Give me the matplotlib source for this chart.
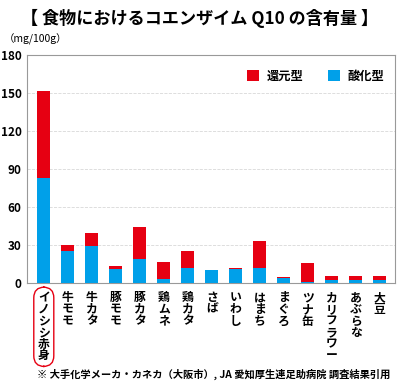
import matplotlib
matplotlib.use("Agg")
import matplotlib.pyplot as plt
import numpy as np

plt.rcParams["font.family"] = ["Noto Sans CJK JP", "DejaVu Sans"]

# ============================================================
# Data (mg/100g)
# ============================================================

foods = ["イノシシ赤身", "牛モモ", "牛カタ", "豚モモ", "豚カタ", "鶏ムネ", "鶏カタ",
         "さば", "いわし", "はまち", "まぐろ", "ツナ缶", "カリフラワー", "あぶらな", "大豆"]
oxidized = [83, 25, 29.3, 10.8, 19.3, 2.9, 12.1, 10.3, 10.8, 12.1, 4.0, 0.8, 2.1, 2.1, 2.1]
total = [151.5, 30.3, 39.8, 13.7, 44.6, 16.9, 25.0, 10.6, 11.6, 33.0, 5.0, 15.8, 5.8, 5.8, 5.8]
reduced = [t - o for t, o in zip(total, oxidized)]

RED = "#E60012"
BLUE = "#00A0E9"

# ============================================================
# Plot
# ============================================================

fig = plt.figure(figsize=(4.0, 3.85), dpi=100)
ax = fig.add_axes([0.0675, 0.265, 0.92, 0.592])

x = np.arange(len(foods))
ax.bar(x, oxidized, width=0.53, color=BLUE, label="酸化型", zorder=3)
ax.bar(x, reduced, width=0.53, bottom=oxidized, color=RED, label="還元型", zorder=3)

ax.set_xlim(-0.7, len(foods) - 0.36)
ax.set_ylim(0, 180)
ax.set_yticks(range(0, 181, 30))
ax.yaxis.grid(True, color="#d8d8d8", linestyle="--", linewidth=0.6, zorder=0)
ax.tick_params(axis="both", length=0, labelsize=8.5)
ax.tick_params(axis="y", pad=4)
for lbl in ax.get_yticklabels():
    lbl.set_fontweight("bold")

ax.set_xticks(x)
ax.set_xticklabels(["\n".join(f) for f in foods], fontsize=8.5,
                   fontweight="bold", linespacing=0.86, va="top")
ax.tick_params(axis="x", pad=6)
ax.get_xticklabels()[0].set_bbox(
    dict(boxstyle="round,pad=0.35,rounding_size=0.9", ec=RED, fc="none", lw=1.0)
)

for s in ax.spines.values():
    s.set_color("#999999")
    s.set_linewidth(0.8)

handles, labels = ax.get_legend_handles_labels()
ax.legend(handles[::-1], labels[::-1], ncol=2, frameon=False, loc="upper right",
          bbox_to_anchor=(1.0, 0.985), handlelength=1.0,
          handleheight=1.0, columnspacing=2.0, handletextpad=0.6,
          prop={"weight": "bold", "size": 8.8})

fig.text(0.5, 0.953, "【 食物におけるコエンザイム Q10 の含有量 】", ha="center", va="center",
         fontsize=12.3, fontweight="bold")
fig.text(0.01, 0.898, "（mg/100g）", ha="left", va="center", fontsize=7.5)
fig.text(0.975, 0.027, "※ 大手化学メーカ・カネカ（大阪市）, JA 愛知厚生連足助病院 調査結果引用",
         ha="right", va="center", fontsize=7.4, fontweight="bold")

fig.savefig("out.png", dpi=100)
